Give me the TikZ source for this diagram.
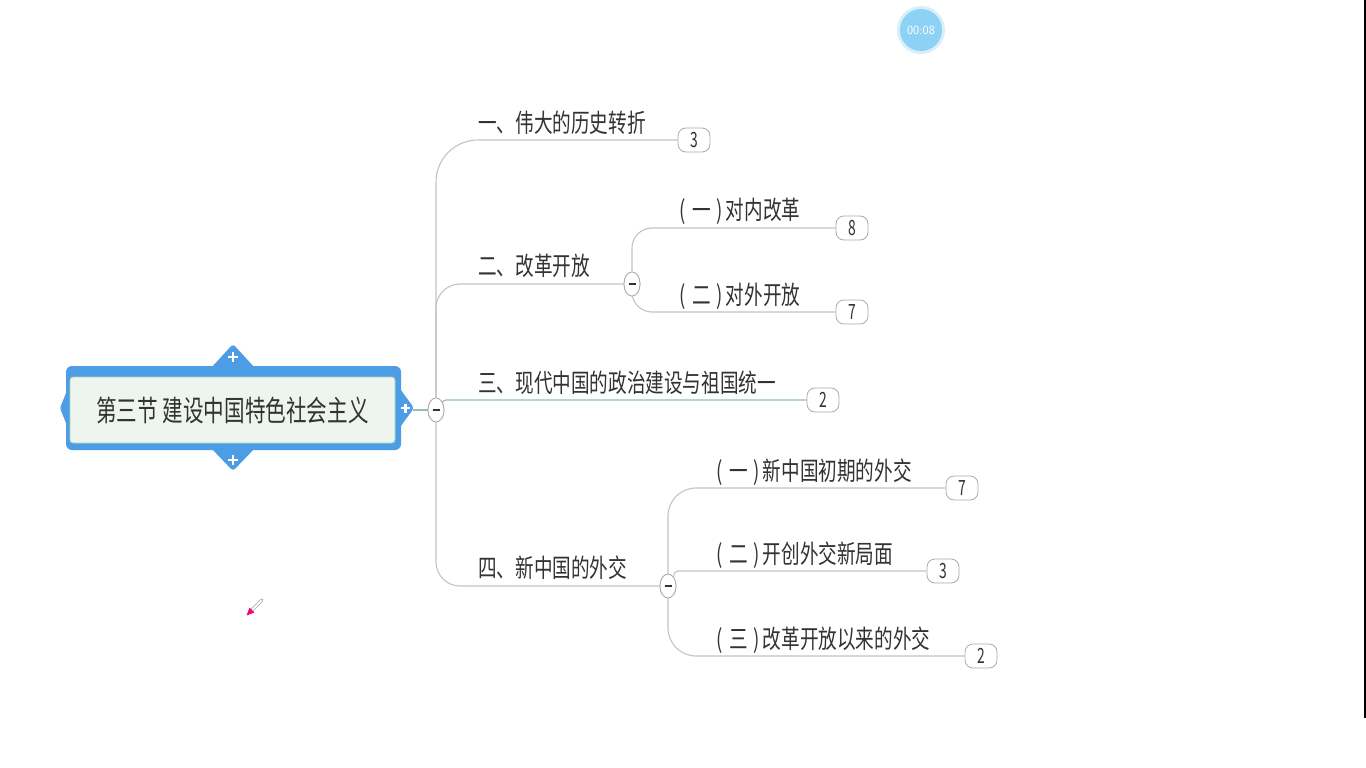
\documentclass[tikz,border=0pt]{standalone}
\usepackage{fontspec}
\usetikzlibrary{shapes.geometric}
\newfontfamily\cjk[FakeStretch=0.73]{Noto Sans CJK SC}
\newfontfamily\cjkroot[FakeStretch=0.71]{Noto Sans CJK SC}
\newfontfamily\cjknum[FakeStretch=0.66]{Noto Sans CJK SC}
\definecolor{txt}{HTML}{333333}
\definecolor{connc}{HTML}{C4C4C4}
\definecolor{tealc}{HTML}{94BCBE}
\definecolor{rootblue}{HTML}{4D9DE6}
\definecolor{rootfill}{HTML}{EEF5EF}
\definecolor{rootedge}{HTML}{A3D6A3}
\definecolor{badgeedge}{HTML}{ABABAB}
\definecolor{timerblue}{HTML}{8DD2F5}
\newcommand{\pnum}[1]{(\hspace{7pt}#1\hspace{5pt})\hspace{3.5pt}}
\tikzset{
  branchtext/.style={anchor=base west, inner sep=0pt, text=txt, font=\cjk\fontsize{25.5}{25.5}\selectfont},
  badge/.style={draw=badgeedge, fill=white, rounded corners=8pt, minimum width=32pt, minimum height=24pt, inner sep=0pt, line width=0.8pt, text=txt, font=\cjknum\fontsize{21}{21}\selectfont},
  collapse/.style={ellipse, draw=badgeedge, fill=white, minimum width=16pt, minimum height=24pt, inner sep=0pt, line width=0.8pt,
    path picture={\draw[line width=1.4pt, txt] ([xshift=-3.5pt]path picture bounding box.center) -- ([xshift=3.5pt]path picture bounding box.center);}},
  connline/.style={draw=connc, line width=1.1pt},
  tealline/.style={draw=tealc, line width=1.1pt},
  rootframe/.style={fill=rootblue, rounded corners=6pt, minimum width=335pt, minimum height=84pt, inner sep=0pt},
  rootinner/.style={fill=rootfill, draw=rootedge, line width=0.8pt, rounded corners=3pt, minimum width=325pt, minimum height=66pt, inner sep=0pt, text=txt, font=\cjkroot\fontsize{29}{29}\selectfont},
  plusmark/.style={draw=white, line width=2.2pt}
}
\begin{document}
\begin{tikzpicture}[x=1pt,y=-1pt]
\useasboundingbox (0,0) rectangle (1366,768);
\fill[white] (0,0) rectangle (1366,768);

% root
\node[rootframe] (rootf) at (233.5,408) {};
\fill[rootblue, rounded corners=3pt] (211,368) -- (233,344) -- (255,368) -- cycle;
\fill[rootblue, rounded corners=3pt] (211,448) -- (233,471) -- (255,448) -- cycle;
\fill[rootblue, rounded corners=3pt] (398,386) -- (414,408) -- (398,430) -- cycle;
\fill[rootblue, rounded corners=2pt] (68,388) -- (60,408) -- (68,428) -- cycle;
\draw[plusmark] (228,357) -- (238,357) (233,352) -- (233,362);
\draw[plusmark] (228,460) -- (238,460) (233,455) -- (233,465);
\draw[plusmark] (401,408) -- (410,408) (405.5,403.5) -- (405.5,412.5);
\node[rootinner] (root) at (232.5,410) {第三节 建设中国特色社会主义};
\coordinate (rtab) at (413,410);

% collapse circles
\node[collapse] (c0) at (436,410) {};
\node[collapse] (c2) at (632,284) {};
\node[collapse] (c4) at (668,586) {};

% badges
\node[badge] (b1) at (694,140) {3};
\node[badge] (b21) at (852,228) {8};
\node[badge] (b22) at (852,312) {7};
\node[badge] (b3) at (823,400) {2};
\node[badge] (b41) at (962,488) {7};
\node[badge] (b42) at (943,571) {3};
\node[badge] (b43) at (981,656) {2};

% connectors
\draw[tealline] (rtab) -- (c0.west);
\draw[connline, rounded corners=42pt] (c0.north) |- (b1.west);
\draw[connline, rounded corners=24pt] (c0.north) |- (c2.west);
\draw[tealline, rounded corners=4pt] (c0.north east) |- (b3.west);
\draw[connline, rounded corners=24pt] (c0.south) |- (c4.west);
\draw[connline, rounded corners=20pt] (c2.north) |- (b21.west);
\draw[connline, rounded corners=20pt] (c2.south) |- (b22.west);
\draw[connline, rounded corners=28pt] (c4.north) |- (b41.west);
\draw[connline, rounded corners=4pt] (c4.north east) |- (b42.west);
\draw[connline, rounded corners=28pt] (c4.south) |- (b43.west);
\node[collapse] at (c0) {};
\node[collapse] at (c2) {};
\node[collapse] at (c4) {};

% texts
\node[branchtext] (t1) at (478,132) {一、伟大的历史转折};
\node[branchtext] (t2) at (478,275) {二、改革开放};
\node[branchtext] (t21) at (679,219) {\pnum{一}对内改革};
\node[branchtext] (t22) at (679,304) {\pnum{二}对外开放};
\node[branchtext] (t3) at (478,392) {三、现代中国的政治建设与祖国统一};
\node[branchtext] (t4) at (478,577) {四、新中国的外交};
\node[branchtext] (t41) at (716,480) {\pnum{一}新中国初期的外交};
\node[branchtext] (t42) at (716,563) {\pnum{二}开创外交新局面};
\node[branchtext] (t43) at (716,648) {\pnum{三}改革开放以来的外交};

% timer
\fill[timerblue!35] (921,30) circle (24);
\node[circle, fill=timerblue, minimum size=42pt, inner sep=0pt, text=white, font=\sffamily\fontsize{12.5}{12.5}\selectfont] (timer) at (921,30) {00:08};

% pen icon
\draw[line width=3.4pt, gray!60, line cap=round] (252,610) -- (262,600);
\draw[line width=1.5pt, white, line cap=round] (252.5,609.5) -- (261.5,600.5);
\fill[magenta!75!red] (246.5,615.5) -- (249.5,607.5) -- (254.5,612.5) -- cycle;

% right edge line
\draw[black, line width=1.6pt] (1365,0) -- (1365,718);
\end{tikzpicture}
\end{document}
